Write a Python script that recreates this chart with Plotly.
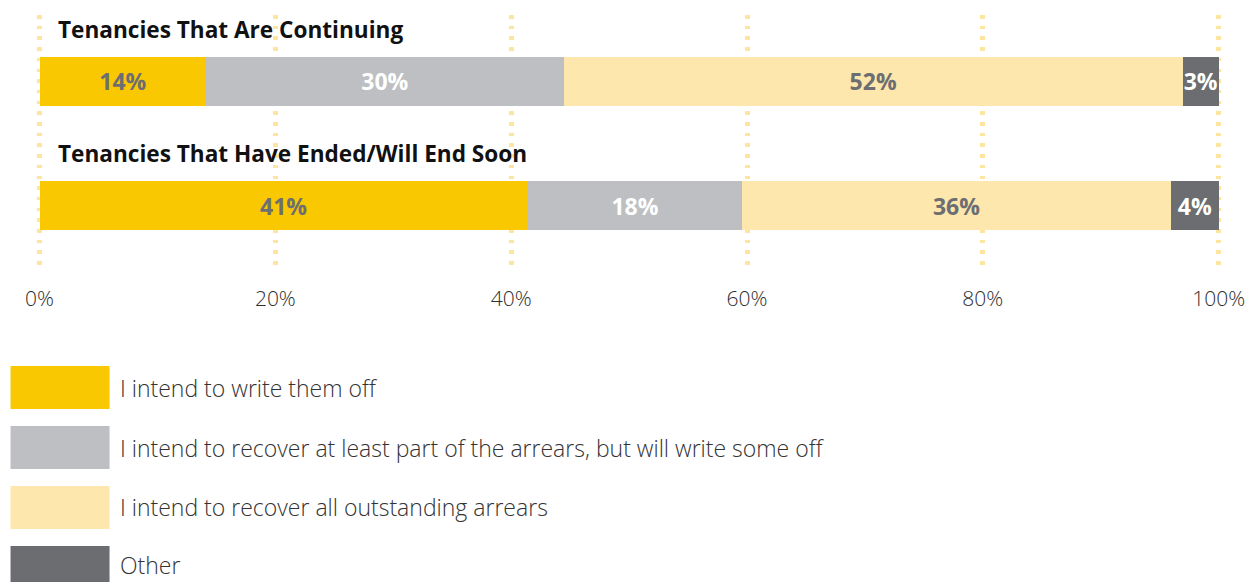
import plotly.graph_objects as go

# --- data -------------------------------------------------------------
groups = ["Tenancies That Are Continuing", "Tenancies That Have Ended/Will End Soon"]
responses = [
    "I intend to write them off",
    "I intend to recover at least part of the arrears, but will write some off",
    "I intend to recover all outstanding arrears",
    "Other",
]
write_off = [14, 41]
recover_part = [30, 18]
recover_all = [52, 36]
other = [3, 4]
x_ticks = [0, 20, 40, 60, 80, 100]

series = [write_off, recover_part, recover_all, other]
colors = ["#F9C800", "#BEBFC2", "#FDE7AD", "#6B6D71"]
label_colors = ["#6D6E71", "#FFFFFF", "#6D6E71", "#FFFFFF"]

FONT = "Open Sans"
W, H = 1251, 582
X0, X100 = 40, 1219          # pixel positions of 0% and 100%
PAD_LO, PAD_HI = -0.3, 100.2  # small range padding so edge gridlines show
UNIT = (X100 - X0) / 100
ML = X0 + PAD_LO * UNIT
MR = W - (X0 + PAD_HI * UNIT)
MT, MB = 15, 310
PW, PH = W - ML - MR, H - MT - MB

fig = go.Figure()
for name, vals, col, lcol in zip(responses, series, colors, label_colors):
    fig.add_trace(go.Bar(
        y=groups, x=vals, name=name, orientation="h",
        marker=dict(color=col, line=dict(width=0)),
        width=0.395,
        text=[f"{v}%" for v in vals],
        textposition="inside", insidetextanchor="middle",
        textangle=0, constraintext="none",
        textfont=dict(family=FONT, size=23, color=lcol, weight=700),
        hoverinfo="skip", showlegend=False,
    ))

# group titles above each bar
for i, g in enumerate(groups):
    fig.add_annotation(
        x=0, y=i - 0.423, xref="x", yref="y", text=g, showarrow=False,
        xanchor="left", yanchor="middle", xshift=16,
        font=dict(family=FONT, size=22.6, color="#111111", weight=700),
    )

# legend drawn as large swatches with labels
def px_x(px):
    return (px - ML) / PW

def px_y(py):
    return (H - MB - py) / PH

for k, (name, col) in enumerate(zip(responses, colors)):
    top = 366 + 60 * k
    fig.add_shape(type="rect", xref="paper", yref="paper",
                  x0=px_x(11), x1=px_x(110), y0=px_y(top + 43), y1=px_y(top),
                  fillcolor=col, line=dict(width=0), layer="above")
    mid = min(top + 21.5, H - 17)
    fig.add_annotation(
        x=px_x(118), y=px_y(mid), xref="paper", yref="paper",
        text=name, showarrow=False, xanchor="left", yanchor="middle",
        font=dict(family=FONT, size=23, color="#333333", weight=300),
    )

fig.update_layout(
    width=W, height=H, barmode="stack", barnorm="percent",
    margin=dict(l=ML, r=MR, t=MT, b=MB, pad=0, autoexpand=False),
    paper_bgcolor="white", plot_bgcolor="white",
    xaxis=dict(
        range=[PAD_LO, PAD_HI], tickvals=x_ticks, ticktext=[f"{t}%" for t in x_ticks],
        showgrid=True, gridcolor="#FDE5A0", gridwidth=5, griddash="3.5px,7.2px",
        zeroline=False, showline=False, automargin=False,
        ticks="outside", ticklen=8, tickcolor="rgba(0,0,0,0)",
        tickfont=dict(family=FONT, size=21, color="#2E2E2E", weight=300),
    ),
    yaxis=dict(
        categoryorder="array", categoryarray=groups,
        range=[1.536, -0.536], showticklabels=False, showgrid=False,
        zeroline=False, showline=False, automargin=False,
    ),
)

fig.write_html("out.html")
